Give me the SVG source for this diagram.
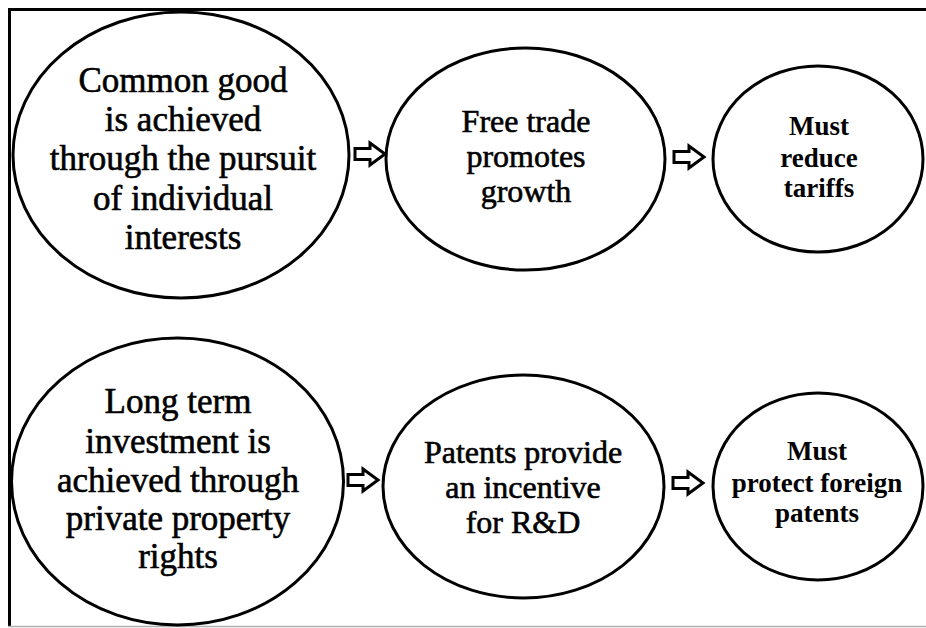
<svg xmlns="http://www.w3.org/2000/svg" width="926" height="628" viewBox="0 0 926 628">
<style>
.node ellipse{fill:#fff;stroke:#000;stroke-width:3}
.t{font-family:"Liberation Serif","Times New Roman",serif;fill:#000;text-anchor:middle}
.big{font-size:35px;stroke:#000;stroke-width:0.6}
.mid{font-size:32px;stroke:#000;stroke-width:0.6}
.sm{font-size:27px;font-weight:bold}
.arr{fill:#fff;stroke:#000;stroke-width:3;stroke-linejoin:miter}
</style>
<defs>
<path id="blk" d="M0,-5.5 H15 V-11 L30,0 L15,11 V5.5 H0 Z"/>
</defs>
<rect width="926" height="628" fill="#fff"/>
<path d="M926,9.5 H9.5 V626" fill="none" stroke="#000" stroke-width="3"/>
<line x1="8" y1="626.5" x2="926" y2="626.5" stroke="#b0b0b0" stroke-width="1.5"/>

<g id="connectors">
<use href="#blk" class="arr" x="355" y="154"/>
<use href="#blk" class="arr" x="674" y="157"/>
<use href="#blk" class="arr" x="348" y="480"/>
<use href="#blk" class="arr" x="673" y="483"/>
</g>

<g id="n1" class="node">
<ellipse cx="181" cy="155" rx="168" ry="143"/>
<text class="t big" x="183" y="92">Common good</text>
<text class="t big" x="183" y="131">is achieved</text>
<text class="t big" x="183" y="170">through the pursuit</text>
<text class="t big" x="183" y="210">of individual</text>
<text class="t big" x="183" y="249">interests</text>
</g>

<g id="n2" class="node">
<ellipse cx="525.5" cy="159" rx="139.5" ry="111"/>
<text class="t mid" x="526" y="132">Free trade</text>
<text class="t mid" x="526" y="167">promotes</text>
<text class="t mid" x="526" y="202">growth</text>
</g>

<g id="n3" class="node">
<ellipse cx="818" cy="159" rx="105" ry="93"/>
<text class="t sm" x="819" y="135">Must</text>
<text class="t sm" x="819" y="167">reduce</text>
<text class="t sm" x="819" y="197">tariffs</text>
</g>

<g id="n4" class="node">
<ellipse cx="177.5" cy="481.5" rx="166" ry="143.5"/>
<text class="t big" x="178" y="413">Long term</text>
<text class="t big" x="178" y="453">investment is</text>
<text class="t big" x="178" y="492">achieved through</text>
<text class="t big" x="178" y="530">private property</text>
<text class="t big" x="178" y="568">rights</text>
</g>

<g id="n5" class="node">
<ellipse cx="523.5" cy="486.5" rx="140.5" ry="111.5"/>
<text class="t mid" x="523" y="463">Patents provide</text>
<text class="t mid" x="523" y="498">an incentive</text>
<text class="t mid" x="523" y="533">for R&amp;D</text>
</g>

<g id="n6" class="node">
<ellipse cx="818" cy="486.5" rx="105" ry="93.5"/>
<text class="t sm" x="817" y="460">Must</text>
<text class="t sm" x="817" y="492">protect foreign</text>
<text class="t sm" x="817" y="522">patents</text>
</g>
</svg>
